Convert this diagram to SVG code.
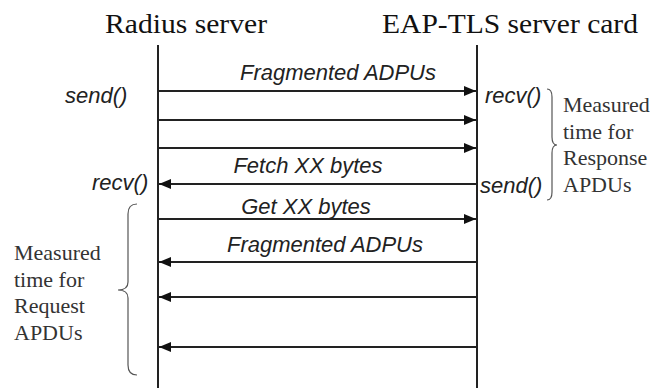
<svg xmlns="http://www.w3.org/2000/svg" width="665" height="388" viewBox="0 0 665 388">
<style>
.title{font-family:"Liberation Serif","Times New Roman",serif;font-size:28px;fill:#111}
.serif{font-family:"Liberation Serif","Times New Roman",serif;font-size:22px;fill:#333}
.lbl{font-family:"Liberation Sans",Arial,sans-serif;font-style:italic;font-size:22px;fill:#222}
.life{stroke:#222;stroke-width:2;fill:none}
.msg{stroke:#222;stroke-width:2;fill:none}
.brace{stroke:#555;stroke-width:1.2;fill:none}
</style>
<defs>
<marker id="ah" viewBox="0 0 12 10" refX="12" refY="5" markerWidth="12" markerHeight="10" markerUnits="userSpaceOnUse" orient="auto">
<path d="M0,0 L12,5 L0,10 z" fill="#111"/>
</marker>
</defs>
<rect width="665" height="388" fill="#fff"/>
<g id="radius">
<text class="title" x="105" y="33" textLength="162" lengthAdjust="spacingAndGlyphs">Radius server</text>
<line class="life" x1="158" y1="45" x2="158" y2="388"/>
</g>
<g id="card">
<text class="title" x="382" y="33" textLength="256" lengthAdjust="spacingAndGlyphs">EAP-TLS server card</text>
<line class="life" x1="477" y1="45" x2="477" y2="388"/>
</g>
<g id="connectors">
<line class="msg" x1="159" y1="91" x2="476" y2="91" marker-end="url(#ah)"/>
<line class="msg" x1="159" y1="120" x2="476" y2="120" marker-end="url(#ah)"/>
<line class="msg" x1="159" y1="148" x2="476" y2="148" marker-end="url(#ah)"/>
<line class="msg" x1="476" y1="184" x2="159" y2="184" marker-end="url(#ah)"/>
<line class="msg" x1="159" y1="219" x2="476" y2="219" marker-end="url(#ah)"/>
<line class="msg" x1="476" y1="262" x2="159" y2="262" marker-end="url(#ah)"/>
<line class="msg" x1="476" y1="297" x2="159" y2="297" marker-end="url(#ah)"/>
<line class="msg" x1="476" y1="347" x2="159" y2="347" marker-end="url(#ah)"/>
</g>
<g id="labels">
<text class="lbl" x="338" y="80" text-anchor="middle">Fragmented ADPUs</text>
<text class="lbl" x="308" y="173" text-anchor="middle">Fetch XX bytes</text>
<text class="lbl" x="306" y="214" text-anchor="middle">Get XX bytes</text>
<text class="lbl" x="325" y="252" text-anchor="middle">Fragmented ADPUs</text>
<text class="lbl" x="65" y="103">send()</text>
<text class="lbl" x="485" y="103">recv()</text>
<text class="lbl" x="92" y="190">recv()</text>
<text class="lbl" x="480" y="193">send()</text>
</g>
<g id="response-brace">
<path class="brace" d="M547,89 Q552,89 552,97 L552,137 Q552,145 557,145 Q552,145 552,153 L552,192 Q552,200 547,200"/>
<text class="serif" x="563" y="112">Measured</text>
<text class="serif" x="563" y="139">time for</text>
<text class="serif" x="563" y="165">Response</text>
<text class="serif" x="563" y="192">APDUs</text>
</g>
<g id="request-brace">
<path class="brace" d="M137,204 Q128,204 128,214 L128,282 Q128,290 118,290 Q128,290 128,298 L128,365 Q128,375 137,375"/>
<text class="serif" x="14" y="260">Measured</text>
<text class="serif" x="14" y="287">time for</text>
<text class="serif" x="14" y="313">Request</text>
<text class="serif" x="14" y="340">APDUs</text>
</g>
</svg>
